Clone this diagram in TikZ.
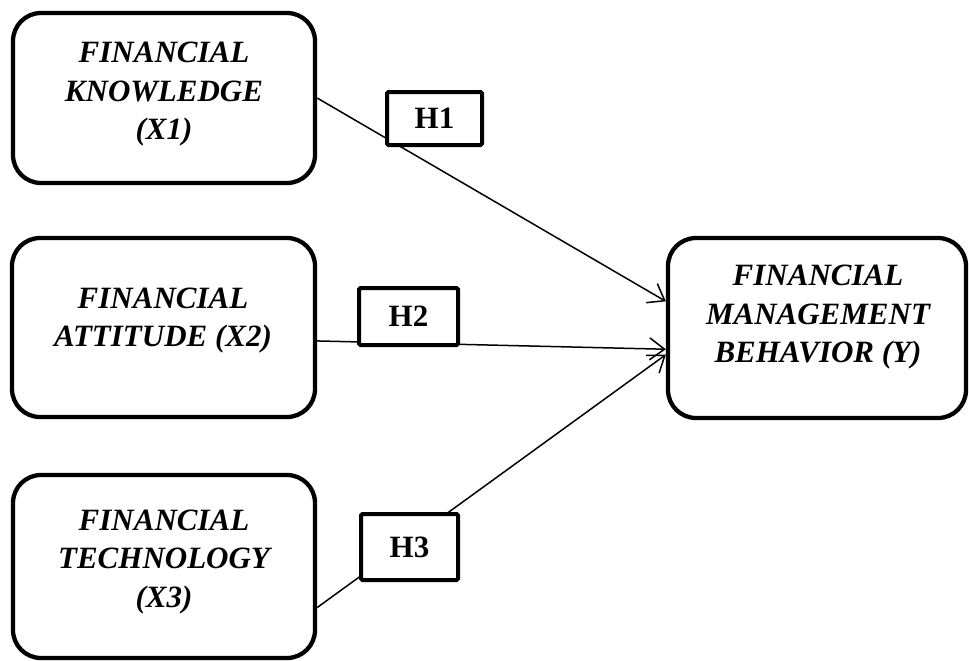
\documentclass[tikz,border=0pt]{standalone}
\usepackage{fontspec}
\setmainfont{Liberation Serif}
\usetikzlibrary{arrows.meta}
\begin{document}
\begin{tikzpicture}[x=1pt,y=-1pt,
  varbox/.style={draw,line width=4.3pt,rounded corners=28pt,inner sep=0pt},
  vartext/.style={align=center,inner sep=0pt,font=\fontsize{31}{38.5}\selectfont\bfseries\itshape},
  hbox/.style={draw,line width=4pt,rounded corners=1.5pt,fill=white,inner sep=0pt,font=\fontsize{31}{36}\selectfont\bfseries},
  link/.style={line width=1.5pt,-{Straight Barb[length=15pt,width=22pt,line width=1.5pt]}}]
\useasboundingbox (0,0) rectangle (969,661);
% variable boxes
\node[varbox,minimum width=302pt,minimum height=170pt] (x1) at (164,98) {};
\node[varbox,minimum width=303pt,minimum height=179pt] (x2) at (163.5,327.5) {};
\node[varbox,minimum width=302pt,minimum height=183pt] (x3) at (164,566.5) {};
\node[varbox,minimum width=298pt,minimum height=180pt] (y) at (817,328) {};
% texts
\node[vartext] (x1t) at (164,94.5) {FINANCIAL\\KNOWLEDGE\\(X1)};
\node[vartext] (x2t) at (163,320.5) {FINANCIAL\\ATTITUDE (X2)};
\node[vartext] (x3t) at (164,562) {FINANCIAL\\TECHNOLOGY\\(X3)};
\node[vartext] (yt) at (818,317.5) {FINANCIAL\\MANAGEMENT\\BEHAVIOR (Y)};
% connectors
\draw[link] (x1.east) -- (y.170);
\draw[link] (x2.-5.8) -- (y.-172.4);
\draw[link] (x3.-15) -- (y.-170.5);
% hypothesis labels
\node[hbox,minimum width=95pt,minimum height=53pt] (h1) at (434.5,118.5) {H1};
\node[hbox,minimum width=99pt,minimum height=57pt] (h2) at (408.5,316.5) {H2};
\node[hbox,minimum width=97pt,minimum height=66pt] (h3) at (409.5,547) {H3};
\end{tikzpicture}
\end{document}
